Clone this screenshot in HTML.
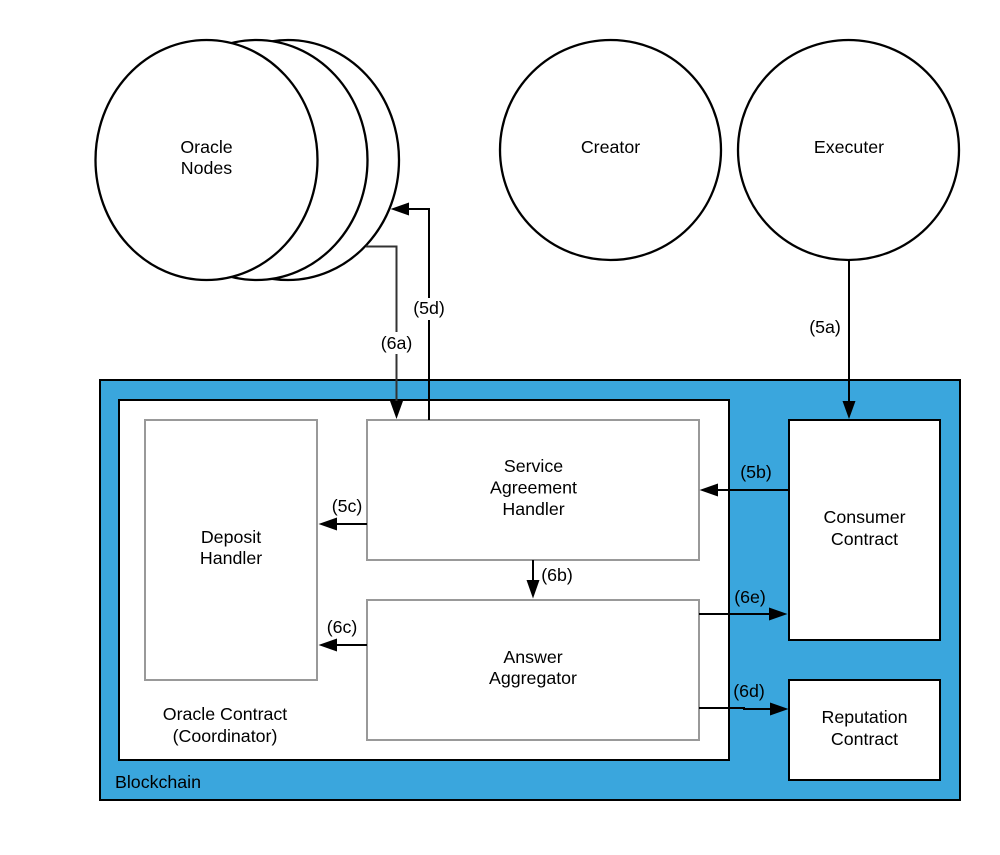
<!DOCTYPE html>
<html>
<head>
<meta charset="utf-8">
<style>
html,body{margin:0;padding:0;background:#fff}
svg{display:block}
text{font-family:"Liberation Sans",sans-serif;font-size:17.8px;fill:#000;text-anchor:middle}
</style>
</head>
<body>
<svg width="1000" height="855" viewBox="0 0 1000 855" xmlns="http://www.w3.org/2000/svg">
<rect x="0" y="0" width="1000" height="855" fill="#fff"/>
<g fill="#fff" stroke="#000" stroke-width="2.300">
<ellipse cx="288" cy="160" rx="111" ry="120"/>
<ellipse cx="256.500" cy="160" rx="111" ry="120"/>
<ellipse cx="206.500" cy="160" rx="111" ry="120"/>
<ellipse cx="610.500" cy="150" rx="110.500" ry="110"/>
<ellipse cx="848.500" cy="150" rx="110.500" ry="110"/>
</g>
<rect x="100" y="380" width="860" height="420" fill="#3aa6dd" stroke="#000" stroke-width="2"/>
<rect x="119" y="400" width="610" height="360" fill="#fff" stroke="#000" stroke-width="2"/>
<g fill="#fff" stroke="#999" stroke-width="2">
<rect x="145" y="420" width="172" height="260"/>
<rect x="367" y="420" width="332" height="140"/>
<rect x="367" y="600" width="332" height="140"/>
</g>
<g fill="#fff" stroke="#000" stroke-width="2">
<rect x="789" y="420" width="151" height="220"/>
<rect x="789" y="680" width="151" height="100"/>
</g>
<g fill="none" stroke="#000" stroke-width="2">
<path d="M366 246.500H396.500V404" stroke="#333"/>
<path d="M429 420V209H406"/>
<path d="M849 260V404"/>
<path d="M789 490H716"/>
<path d="M367 524H335"/>
<path d="M533 560V584"/>
<path d="M367 645H335"/>
<path d="M699 614H772"/>
<path d="M699 708H744V709H772"/>
</g>
<g fill="#000">
<path d="M396.500 419L390 401H403Z"/>
<path d="M390.500 209L409 202.500V215.500Z"/>
<path d="M849 419L842.500 401H855.500Z"/>
<path d="M699.500 490L718 483.500V496.500Z"/>
<path d="M318.500 524L337 517.500V530.500Z"/>
<path d="M533 598.500L526.500 580H539.500Z"/>
<path d="M318.500 645L337 638.500V651.500Z"/>
<path d="M787.500 614L769 607.500V620.500Z"/>
<path d="M788.500 709L770 702.500V715.500Z"/>
</g>
<rect x="380" y="332" width="34" height="22" fill="#fff"/>
<rect x="412" y="298" width="34" height="22" fill="#fff"/>
<text x="206.500" y="153">Oracle</text>
<text x="206.500" y="174">Nodes</text>
<text x="610.500" y="153">Creator</text>
<text x="849" y="153">Executer</text>
<text x="533.500" y="472">Service</text>
<text x="533.500" y="493.500">Agreement</text>
<text x="533.500" y="515">Handler</text>
<text x="231" y="543">Deposit</text>
<text x="231" y="564">Handler</text>
<text x="533" y="663">Answer</text>
<text x="533" y="684">Aggregator</text>
<text x="864.500" y="523">Consumer</text>
<text x="864.500" y="545">Contract</text>
<text x="864.500" y="723">Reputation</text>
<text x="864.500" y="745">Contract</text>
<text x="225" y="720">Oracle Contract</text>
<text x="225" y="742">(Coordinator)</text>
<text x="158" y="788">Blockchain</text>
<text x="396.500" y="349">(6a)</text>
<text x="429" y="314">(5d)</text>
<text x="825" y="333">(5a)</text>
<text x="756" y="478">(5b)</text>
<text x="347" y="512">(5c)</text>
<text x="557" y="581">(6b)</text>
<text x="342" y="633">(6c)</text>
<text x="750" y="603">(6e)</text>
<text x="749" y="697">(6d)</text>
</svg>
</body>
</html>
